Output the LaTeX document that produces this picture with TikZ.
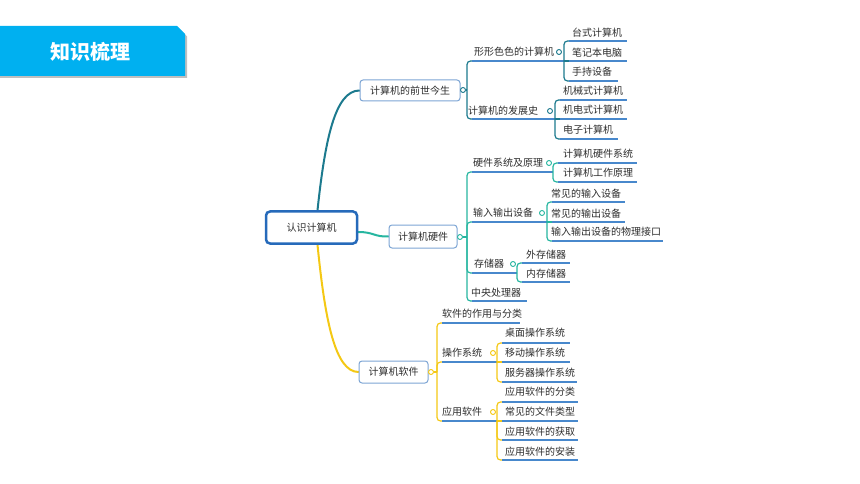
\documentclass[tikz,border=0pt]{standalone}
\usepackage{fontspec}
\newfontfamily\cjk{Noto Sans CJK SC}
\usetikzlibrary{backgrounds,calc}
\definecolor{bannerblue}{RGB}{0,176,240}
\definecolor{cA}{RGB}{28,122,142}
\definecolor{cB}{RGB}{38,182,160}
\definecolor{cC}{RGB}{244,200,20}
\definecolor{ublue}{RGB}{72,136,204}
\definecolor{boxblue}{RGB}{125,165,212}
\definecolor{rootblue}{RGB}{38,106,186}
\definecolor{txt}{RGB}{45,45,45}
% name, junction, bracket x, text x, text y, underline y, underline end x, text, corner style
\newcommand\mmleaf[9]{%
  \coordinate (#1-s) at (#3+5,#6);
  \coordinate (#1-e) at (#7,#6);
  \node[leaf,anchor=west] (#1) at (#4,#5) {#8};
  \draw[br,#9] (#2) |- (#1-s);
  \draw[uline] (#1-s) -- (#1-e);
}
\tikzset{
  leaf/.style={inner sep=0pt,font=\cjk\fontsize{10}{12}\selectfont,text=txt},
  uline/.style={draw=ublue,line width=1.2pt},
  br/.style={draw=cA,line width=1.2pt},
  knob/.style={circle,draw=#1,fill=white,line width=0.9pt,inner sep=0pt,minimum size=5pt},
  l1box/.style={draw=boxblue,line width=1pt,rounded corners=3pt,fill=white,inner sep=0pt,
    font=\cjk\fontsize{10}{12}\selectfont,text=txt},
  rootbox/.style={draw=rootblue,line width=2.5pt,rounded corners=4pt,fill=white,
    minimum width=91pt,minimum height=32pt,inner sep=0pt,font=\cjk\fontsize{10}{12}\selectfont,text=txt},
  titletext/.style={font=\cjk\bfseries\fontsize{20}{24}\selectfont,text=white,inner sep=0pt},
  rootline/.style={line width=2pt,line cap=round},
}
\begin{document}
\begin{tikzpicture}[x=1pt,y=-1pt]
\useasboundingbox (0,0) rectangle (860,484);
% banner
\fill[black!25] (0,28) -- (178.5,28) -- (187,36.5) -- (187,78) -- (0,78) -- cycle;
\fill[bannerblue] (0,26) -- (177,26) -- (185,34) -- (185,76) -- (0,76) -- cycle;
\node[titletext] (title) at (90,52) {知识梳理};

% root and level 1
\node[rootbox] (R) at (311.5,227.5) {认识计算机};
\node[l1box,minimum width=100pt,minimum height=21pt] (A) at (410,90.5) {计算机的前世今生};
\node[l1box,minimum width=68pt,minimum height=23pt] (B) at (423,236.5) {计算机硬件};
\node[l1box,minimum width=69pt,minimum height=22pt] (C) at (393.5,372) {计算机软件};
\node[knob=cA] (kA) at (463,90) {};
\node[knob=cB] (kB) at (460,237) {};
\node[knob=cC] (kC) at (431,372) {};

\begin{scope}[on background layer]
\draw[rootline,cA] ([xshift=6pt]R.north) .. controls (325,140) and (335,90.5) .. (A.west);
\draw[rootline,cB] ([yshift=-4.5pt]R.east) .. controls (374,232) and (374,237) .. (B.west);
\draw[rootline,cC] ([xshift=6pt]R.south) .. controls (325,320) and (335,372) .. (C.west);
\end{scope}

% branch A
\begin{scope}[br/.style={draw=cA,line width=1.2pt}]
\coordinate (jA) at (467,90);
\coordinate (jA1) at (564,61);
\coordinate (jA2) at (555,119);
\draw[br] (kA.east) -- (jA);
\mmleaf{A1}{jA}{467}{474}{52}{61}{564}{形形色色的计算机}{rounded corners=3.5pt}
\mmleaf{A2}{jA}{467}{468}{111}{119}{555}{计算机的发展史}{rounded corners=3.5pt}
\mmleaf{A11}{jA1}{564}{572}{33}{41}{627}{台式计算机}{rounded corners=3.5pt}
\mmleaf{A12}{jA1}{564}{572}{53}{61}{627}{笔记本电脑}{sharp corners}
\mmleaf{A13}{jA1}{564}{572}{72}{81}{618}{手持设备}{rounded corners=3.5pt}
\mmleaf{A21}{jA2}{555}{563}{91}{100}{627}{机械式计算机}{rounded corners=3.5pt}
\mmleaf{A22}{jA2}{555}{563}{110}{119}{627}{机电式计算机}{sharp corners}
\mmleaf{A23}{jA2}{555}{563}{130}{139}{618}{电子计算机}{rounded corners=3.5pt}
\node[knob=cA] (kA1) at (559,52) {};
\node[knob=cA] (kA2) at (550,111) {};
\end{scope}

% branch B
\begin{scope}[br/.style={draw=cB,line width=1.2pt}]
\coordinate (jB) at (467,237);
\coordinate (jB1) at (553,172);
\coordinate (jB2) at (547,222);
\coordinate (jB3) at (517,273);
\draw[br] (kB.east) -- (jB);
\mmleaf{B1}{jB}{467}{473}{163}{172}{553}{硬件系统及原理}{rounded corners=3.5pt}
\mmleaf{B2}{jB}{467}{473}{213}{222}{547}{输入输出设备}{rounded corners=3.5pt}
\mmleaf{B3}{jB}{467}{474}{264}{273}{517}{存储器}{rounded corners=3.5pt}
\mmleaf{B4}{jB}{467}{471}{293}{301}{527}{中央处理器}{rounded corners=3.5pt}
\mmleaf{B11}{jB1}{553}{563}{154}{163}{637}{计算机硬件系统}{rounded corners=3.5pt}
\mmleaf{B12}{jB1}{553}{563}{173}{182}{637}{计算机工作原理}{rounded corners=3.5pt}
\mmleaf{B21}{jB2}{547}{551}{194}{202}{625}{常见的输入设备}{rounded corners=3.5pt}
\mmleaf{B22}{jB2}{547}{551}{214}{222}{625}{常见的输出设备}{sharp corners}
\mmleaf{B23}{jB2}{547}{551}{232}{241}{663}{输入输出设备的物理接口}{rounded corners=3.5pt}
\mmleaf{B31}{jB3}{517}{526}{255}{263}{570}{外存储器}{rounded corners=3.5pt}
\mmleaf{B32}{jB3}{517}{526}{274}{282}{570}{内存储器}{rounded corners=3.5pt}
\node[knob=cB] (kB1) at (549,163) {};
\node[knob=cB] (kB2) at (542,213) {};
\node[knob=cB] (kB3) at (513,264) {};
\end{scope}

% branch C
\begin{scope}[br/.style={draw=cC,line width=1.2pt}]
\coordinate (jC) at (437,372);
\coordinate (jC2) at (497,362);
\coordinate (jC3) at (497,421);
\draw[br] (kC.east) -- (jC);
\mmleaf{C1}{jC}{437}{442}{314}{323}{520}{软件的作用与分类}{rounded corners=3.5pt}
\mmleaf{C2}{jC}{437}{442}{353}{362}{497}{操作系统}{rounded corners=3.5pt}
\mmleaf{C3}{jC}{437}{442}{412}{421}{497}{应用软件}{rounded corners=3.5pt}
\mmleaf{C21}{jC2}{497}{505}{333}{343}{570}{桌面操作系统}{rounded corners=3.5pt}
\mmleaf{C22}{jC2}{497}{505}{353}{362}{570}{移动操作系统}{sharp corners}
\mmleaf{C23}{jC2}{497}{505}{373}{382}{577}{服务器操作系统}{rounded corners=3.5pt}
\mmleaf{C31}{jC3}{497}{505}{392}{402}{578}{应用软件的分类}{rounded corners=3.5pt}
\mmleaf{C32}{jC3}{497}{505}{412}{421}{578}{常见的文件类型}{sharp corners}
\mmleaf{C33}{jC3}{497}{505}{432}{440}{578}{应用软件的获取}{rounded corners=3.5pt}
\mmleaf{C34}{jC3}{497}{505}{452}{460}{578}{应用软件的安装}{rounded corners=3.5pt}
\node[knob=cC] (kC2) at (493,353) {};
\node[knob=cC] (kC3) at (493,412) {};
\end{scope}
\end{tikzpicture}
\end{document}
